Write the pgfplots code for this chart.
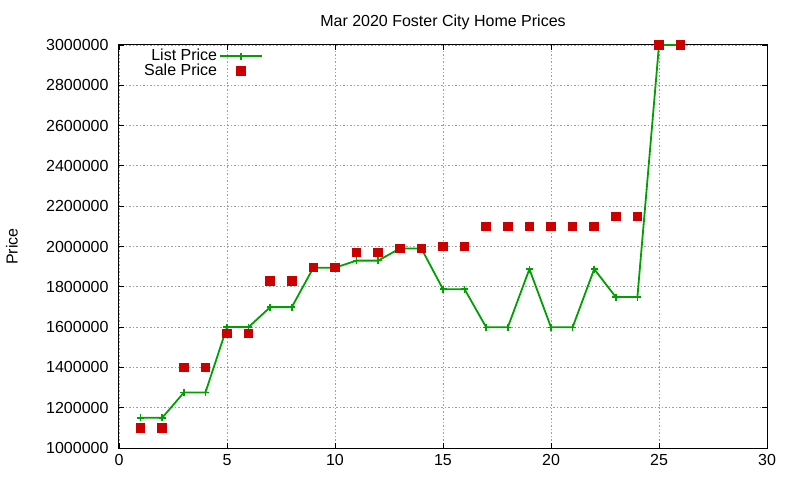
\documentclass[border=0pt]{standalone}
\usepackage{pgfplots}
\pgfplotsset{compat=1.18}
\usepackage{fontspec}
\setmainfont{Liberation Sans}
\definecolor{lgreen}{RGB}{0,160,0}
\definecolor{sred}{RGB}{204,0,0}
\begin{document}
\fontsize{16bp}{19bp}\selectfont
\begin{tikzpicture}
\begin{axis}[
  scale only axis,
  width=648bp, height=403bp,
  xmin=0, xmax=30, ymin=1000000, ymax=3000000,
  xtick={0,5,...,30},
  ytick={1000000,1200000,...,3000000},
  scaled y ticks=false,
  /pgf/number format/fixed,
  /pgf/number format/1000 sep={},
  /pgf/number format/assume math mode=true,
  tick pos=both, tick align=inside,
  major tick length=5bp,
  tick style={black, line width=0.8bp},
  axis line style={black, line width=1bp},
  grid=major,
  major grid style={gray!75, line width=0.8bp, dash pattern=on 1.5bp off 2bp},
  yticklabel style={xshift=-5bp},
  xticklabel style={yshift=-1bp},
  title={Mar 2020 Foster City Home Prices},
  title style={at={(0.5,1)}, anchor=base, yshift=12.5bp, inner sep=0pt},
  ylabel={Price},
  ylabel style={at={([xshift=-107bp]rel axis cs:0,0.5)}, anchor=center, rotate=0},
  clip=false,
  legend plot pos=right,
  legend cell align=right,
  legend style={at={(rel axis cs:0,1)}, anchor=north west, draw=none, fill=none,
    xshift=20bp, yshift=0bp, row sep=-3bp,
    legend image code/.code={\draw[mark repeat=2,mark phase=2] plot coordinates {(0bp,0bp)(21bp,0bp)(42bp,0bp)};}},
]
\coordinate (sw) at (rel axis cs:0,0);
\coordinate (ne) at (rel axis cs:1,1);
\addplot[lgreen, line width=1.8bp, mark=+, mark size=3.5bp, mark options={line width=1.6bp}] coordinates {
(1,1150000)(2,1150000)(3,1275000)(4,1275000)(5,1600000)(6,1600000)(7,1699000)(8,1699000)
(9,1895000)(10,1895000)(11,1930000)(12,1930000)(13,1990000)(14,1990000)(15,1788000)(16,1788000)
(17,1599000)(18,1599000)(19,1888000)(20,1599000)(21,1599000)(22,1888000)(23,1749000)(24,1749000)
(25,3000000)(26,3000000)};
\addlegendentry{List Price}
\addplot[only marks, mark=square*, mark size=4.3bp, sred, mark options={draw=sred, fill=sred, line width=0pt}] coordinates {
(1,1100000)(2,1100000)(3,1400000)(4,1400000)(5,1568000)(6,1568000)(7,1830000)(8,1830000)
(9,1895000)(10,1895000)(11,1970000)(12,1970000)(13,1990000)(14,1990000)(15,2000000)(16,2000000)
(17,2100000)(18,2100000)(19,2100000)(20,2100000)(21,2100000)(22,2100000)(23,2148000)(24,2148000)
(25,3000000)(26,3000000)};
\addlegendentry{Sale Price}
\end{axis}
\pgfresetboundingbox
\path ([shift={(-119bp,-32bp)}]sw) rectangle ([shift={(33bp,45bp)}]ne);
\end{tikzpicture}
\end{document}
